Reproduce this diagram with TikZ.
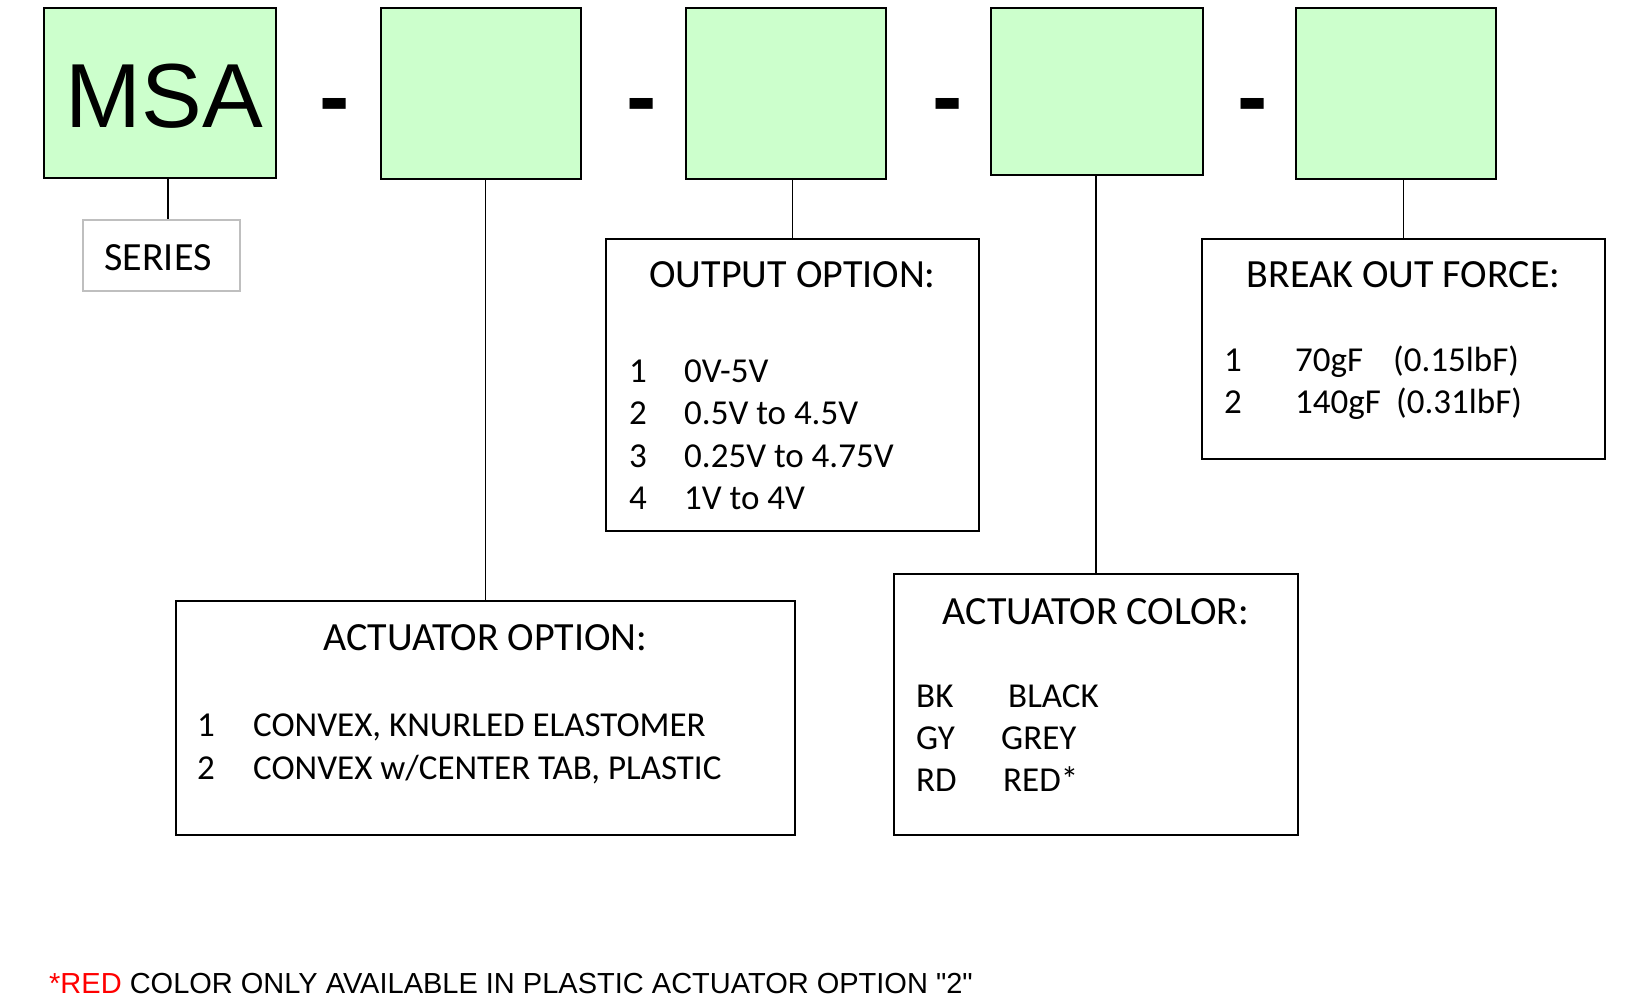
\documentclass[tikz,border=0pt]{standalone}
\usepackage{fontspec}
\setmainfont{Carlito}
\newfontfamily\arialfont{Liberation Sans}
\usetikzlibrary{positioning}
\definecolor{slotgreen}{HTML}{CCFFCC}
\definecolor{sergray}{HTML}{BFBFBF}
\definecolor{notered}{HTML}{FF0000}

\begin{document}
\begin{tikzpicture}[x=1pt,y=-1pt,font=\fontsize{35}{40}\selectfont]
  \tikzstyle{slot}=[draw,line width=2pt,fill=slotgreen,inner sep=0pt,minimum width=200pt,minimum height=171pt]
  \tikzstyle{opt}=[draw,line width=1.8pt,inner sep=0pt]
  \tikzstyle{hd}=[anchor=base,inner sep=0pt,font=\fontsize{40}{44}\selectfont]
  \tikzstyle{itm}=[anchor=base west,inner sep=0pt]
  \tikzstyle{hyph}=[anchor=base,inner sep=0pt,font=\arialfont\bfseries\fontsize{91}{91}\selectfont]
  \useasboundingbox (0,0) rectangle (1644,1000);
  % part number slots
  \node[slot,minimum width=232pt,minimum height=170pt] (msa) at (160,93) {};
  \node[anchor=base,inner sep=0pt,font=\arialfont\fontsize{91}{91}\selectfont] (mt) at (164.5,128) {MSA};
  \node[slot] (b2) at (481,93.5) {};
  \node[slot] (b3) at (786,93.5) {};
  \node[slot,minimum width=212pt,minimum height=167pt] (b4) at (1097,91.5) {};
  \node[slot] (b5) at (1396,93.5) {};
  \node[hyph] (d1) at (335,128) {-};
  \node[hyph] (d2) at (642,128) {-};
  \node[hyph] (d3) at (948,128) {-};
  \node[hyph] (d4) at (1253,128) {-};
  % option boxes
  \node[draw=sergray,line width=2pt,inner sep=0pt,minimum width=157pt,minimum height=71pt] (ser) at (161.5,255.5) {};
  \node[hd] (st) at (158,271) {SERIES};
  \node[opt,minimum width=373pt,minimum height=292pt] (oopt) at (792.5,385) {};
  \node[opt,minimum width=403pt,minimum height=220pt] (fopt) at (1403.5,349) {};
  \node[opt,minimum width=619pt,minimum height=234pt] (aopt) at (485.5,718) {};
  \node[opt,minimum width=404pt,minimum height=261pt] (copt) at (1096,704.5) {};
  % leader lines
  \coordinate (sj) at (168,0);
  \draw[line width=1.2pt] (msa.south -| sj) -- (ser.north -| sj);
  \draw[line width=1.2pt] (aopt.north) -- (aopt.north |- b2.south);
  \draw[line width=1.2pt] (oopt.north) -- (oopt.north |- b3.south);
  \draw[line width=1.2pt] (copt.north) -- (copt.north |- b4.south);
  \draw[line width=1.2pt] (fopt.north) -- (fopt.north |- b5.south);
  % output option
  \node[hd] (oh) at (oopt.center |- 0,288) {OUTPUT OPTION:};
  \node[itm] (o1n) at (629,382) {1};
  \node[itm] (o1) at (684,382) {0V-5V};
  \node[itm] (o2n) at (629,424) {2};
  \node[itm] (o2) at (684,424) {0.5V to 4.5V};
  \node[itm] (o3n) at (629,467) {3};
  \node[itm] (o3) at (684,467) {0.25V to 4.75V};
  \node[itm] (o4n) at (629,509) {4};
  \node[itm] (o4) at (684,509) {1V to 4V};
  % break out force
  \node[hd] (fh) at (fopt.center |- 0,288) {BREAK OUT FORCE:};
  \node[itm] (f1n) at (1224,371) {1};
  \node[itm] (f1) at (1295,371) {70gF};
  \node[itm] (f1b) at (1393,371) {(0.15lbF)};
  \node[itm] (f2n) at (1224,413) {2};
  \node[itm] (f2) at (1295,413) {140gF};
  \node[itm] (f2b) at (1396,413) {(0.31lbF)};
  % actuator option
  \node[hd] (ah) at (aopt.center |- 0,650) {ACTUATOR OPTION:};
  \node[itm] (a1n) at (197,736) {1};
  \node[itm] (a1) at (253,736) {CONVEX, KNURLED ELASTOMER};
  \node[itm] (a2n) at (197,779) {2};
  \node[itm] (a2) at (253,779) {CONVEX w/CENTER TAB, PLASTIC};
  % actuator color
  \node[hd] (ch) at (copt.center |- 0,624) {ACTUATOR COLOR:};
  \node[itm] (c1n) at (916,707) {BK};
  \node[itm] (c1) at (1008,707) {BLACK};
  \node[itm] (c2n) at (916,749) {GY};
  \node[itm] (c2) at (1001,749) {GREY};
  \node[itm] (c3n) at (916,791) {RD};
  \node[itm] (c3) at (1003,791) {RED*};
  % footnote
  \node[itm,font=\arialfont\fontsize{29}{32}\selectfont] (note) at (49,993) {\textcolor{notered}{*RED} COLOR ONLY AVAILABLE IN PLASTIC ACTUATOR OPTION "2"};
\end{tikzpicture}
\end{document}
